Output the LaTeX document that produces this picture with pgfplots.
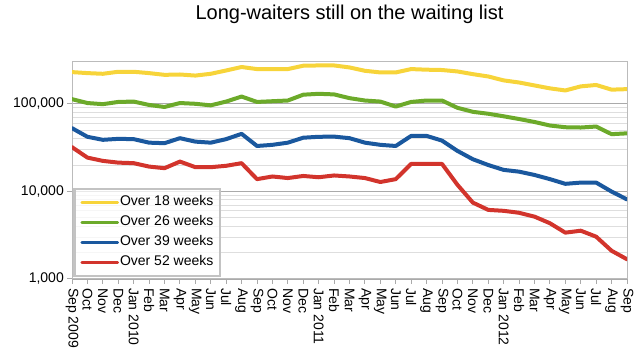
\documentclass[border=0pt]{standalone}
\usepackage{fontspec}
\setmainfont{Liberation Sans}
\usepackage{pgfplots}
\usepackage{pgfplotstable}
\pgfplotsset{compat=1.18}
\definecolor{cy}{RGB}{247,212,58}
\definecolor{cg}{RGB}{108,170,42}
\definecolor{cb}{RGB}{26,88,158}
\definecolor{cr}{RGB}{210,52,44}
\definecolor{gmaj}{RGB}{170,170,170}
\definecolor{gmin}{RGB}{222,222,222}

\pgfplotstableread{
i  o18    o26    o39    o52
0  230000 113000 52700 32000
1  224000 102000 42000 24300
2  220000 99000  38800 22300
3  232000 105000 39800 21300
4  232000 106000 39500 21000
5  224000 97000  36000 19200
6  214000 92000  35500 18400
7  216000 102000 40500 21900
8  210000 100000 37000 18900
9  220000 96000  36000 18900
10 240000 106000 39500 19600
11 263000 121000 45400 21000
12 249000 105000 33000 13800
13 249000 107000 34000 14800
14 249000 109000 36000 14200
15 272000 127000 41000 15000
16 274000 130000 42000 14500
17 274000 128000 42200 15200
18 260000 116000 40500 14800
19 238000 109000 36000 14200
20 228000 106000 34000 12800
21 228000 93000  33000 13800
22 249000 105000 43000 20600
23 245000 109000 43000 20600
24 243000 109000 38000 20600
25 234000 90000  29000 11900
26 218000 81000  23300 7450
27 205000 77000  20000 6150
28 185000 72000  17600 6000
29 175000 67000  16800 5700
30 162000 62000  15400 5150
31 150000 56500  13800 4330
32 142000 54000  12200 3380
33 158000 53600  12600 3560
34 164000 55000  12600 3040
35 145000 45000  9950  2100
36 147000 46000  8100  1680
}\waittable

\begin{document}
\begin{tikzpicture}
\path[use as bounding box] (-72bp,-76bp) rectangle (568bp,279bp);
\begin{axis}[
  at={(0,0)}, anchor=south west,
  scale only axis, width=555bp, height=217bp,
  ymode=log, ymin=1000, ymax=300000,
  xmin=0, xmax=36,
  xtick={0,...,36},
  xticklabels={Sep 2009,Oct,Nov,Dec,Jan 2010,Feb,Mar,Apr,May,Jun,Jul,Aug,Sep,Oct,Nov,Dec,Jan 2011,Feb,Mar,Apr,May,Jun,Jul,Aug,Sep,Oct,Nov,Dec,Jan 2012,Feb,Mar,Apr,May,Jun,Jul,Aug,Sep},
  ytick={1000,10000,100000},
  log ticks with fixed point,
  /pgf/number format/1000 sep={,},
  /pgf/number format/assume math mode=true,
  tick pos=left,
  tick align=outside,
  major tick length=5bp,
  minor tick length=0bp,
  tick style={draw=gmaj, line width=1bp},
  xticklabel style={rotate=-90, anchor=west, inner sep=4bp, font=\fontsize{14bp}{16bp}\selectfont},
  yticklabel style={anchor=east, inner sep=3bp, font=\fontsize{14bp}{16bp}\selectfont},
  ymajorgrids=true, yminorgrids=true,
  major grid style={draw=gmaj, line width=0.9bp},
  minor grid style={draw=gmin, line width=0.9bp},
  axis line style={draw=gmaj!80, line width=1bp},
  title={Long-waiters still on the waiting list},
  title style={at={(0.5,1)}, anchor=base, yshift=37bp, font=\fontsize{20bp}{24bp}\selectfont},
  legend cell align=left,
  legend style={at={(0,0)}, anchor=south west, xshift=1.5bp, yshift=2bp,
    draw=gmaj!70, line width=2bp, fill=white, fill opacity=0.75, text opacity=1, draw opacity=1,
    font=\fontsize{14bp}{16bp}\selectfont, row sep=5bp, inner sep=6bp,
    nodes={inner sep=1bp, text height=10bp, text depth=3bp}},
  legend image code/.code={\draw[#1, line width=2.5bp] (0bp,0bp) -- (36bp,0bp);},
  every axis plot/.append style={line width=4bp, line join=round, line cap=round},
]
\addplot[cy] table[x=i, y=o18] {\waittable};
\addplot[cg] table[x=i, y=o26] {\waittable};
\addplot[cb] table[x=i, y=o39] {\waittable};
\addplot[cr] table[x=i, y=o52] {\waittable};
\legend{Over 18 weeks, Over 26 weeks, Over 39 weeks, Over 52 weeks}
\end{axis}
\end{tikzpicture}
\end{document}
